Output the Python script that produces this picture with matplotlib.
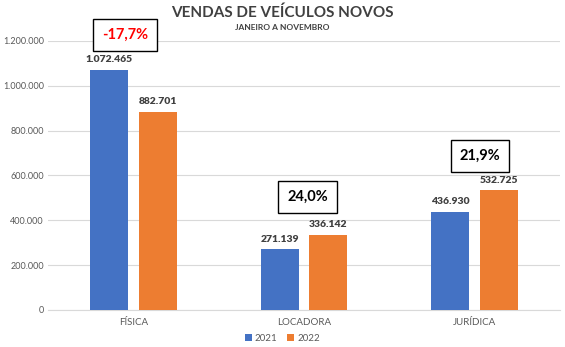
import matplotlib.pyplot as plt
import numpy as np
from matplotlib.ticker import FuncFormatter

plt.rcParams['font.family'] = ['Lato', 'DejaVu Sans']

categorias = ['FÍSICA', 'LOCADORA', 'JURÍDICA']
vendas_2021 = [1072465, 271139, 436930]
vendas_2022 = [882701, 336142, 532725]
variacao = ['-17,7%', '24,0%', '21,9%']

azul = '#4472C4'
laranja = '#ED7D31'
cinza = '#595959'

def fmt_br(v):
    return f'{int(v):,}'.replace(',', '.')

fig = plt.figure(figsize=(5.65, 3.47), dpi=100)
ax = fig.add_axes([0.085, 0.107, 0.906, 0.775])

x = np.arange(len(categorias))
w = 0.222
off = 0.143
b1 = ax.bar(x - off, vendas_2021, w, color=azul, label='2021', zorder=3)
b2 = ax.bar(x + off, vendas_2022, w, color=laranja, label='2022', zorder=3)

for barras in (b1, b2):
    for b in barras:
        ax.annotate(fmt_br(b.get_height()), (b.get_x() + b.get_width() / 2, b.get_height()),
                    xytext=(0, 4), textcoords='offset points', ha='center', va='bottom',
                    fontsize=7.5, fontweight='heavy', color='#404040')

# caixas de variacao
pos_caixa = [(-0.05, 1227000), (1.02, 504000), (2.03, 687000)]
cores_txt = ['#FF0000', 'black', 'black']
for (px, py), txt, c in zip(pos_caixa, variacao, cores_txt):
    ax.text(px, py, txt, ha='center', va='center', fontsize=10.5, fontweight='bold', color=c,
            clip_on=False,
            bbox=dict(boxstyle='square,pad=0.6', facecolor='white', edgecolor='black', linewidth=1.0))

ax.set_xlim(-0.5, 2.5)
ax.set_ylim(0, 1200000)
ax.set_yticks(np.arange(0, 1200001, 200000))
ax.yaxis.set_major_formatter(FuncFormatter(lambda v, p: fmt_br(v)))
ax.set_xticks(x)
ax.set_xticklabels(categorias)
ax.tick_params(axis='both', length=0, labelsize=7, colors=cinza)
ax.tick_params(axis='y', labelsize=6.5, pad=3)
ax.tick_params(axis='x', pad=6)
ax.grid(axis='y', color='#D9D9D9', linewidth=0.8, zorder=0)
for s in ['top', 'right', 'left']:
    ax.spines[s].set_visible(False)
ax.spines['bottom'].set_color('#D9D9D9')

fig.text(0.5, 0.962, 'VENDAS DE VEÍCULOS NOVOS', ha='center', va='center',
         fontsize=11, fontweight='bold', color='#404040')
fig.text(0.5, 0.922, 'JANEIRO A NOVEMBRO', ha='center', va='center',
         fontsize=6, fontweight='bold', color='#404040')

fig.legend(loc='center', bbox_to_anchor=(0.5, 0.025), ncol=2, frameon=False,
           fontsize=7, handlelength=0.7, handleheight=0.7, handletextpad=0.3,
           columnspacing=1.0, labelcolor=cinza)

fig.savefig('out.png', dpi=100)
